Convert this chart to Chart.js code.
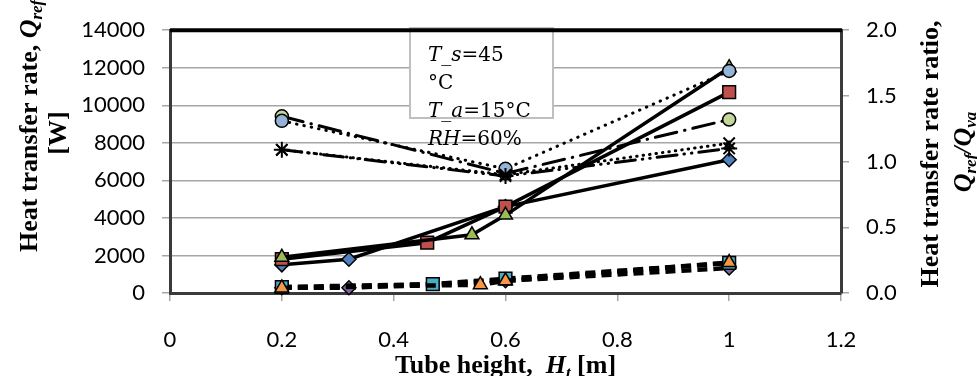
<!DOCTYPE html>
<html>
<head>
<meta charset="utf-8">
<script src="https://cdn.jsdelivr.net/npm/chart.js@4"></script>
<style>
  html, body { margin: 0; padding: 0; background: #fff; }
  #chart { display: block; }
</style>
</head>
<body>
<canvas id="chart" width="977" height="376"></canvas>
<script>
const $ = (sel) => document.querySelector(sel);

/* Heat transfer rate Q [W], solid lines */
const xDiamond = [0.2, 0.32, 0.6, 1.0];
const qDiamond = [1500, 1800, 4600, 7100];
const xSquare = [0.2, 0.46, 0.6, 1.0];
const qSquare = [1800, 2680, 4600, 10700];
const xTriangle = [0.2, 0.54, 0.6, 1.0];
const qTriangle = [1900, 3100, 4150, 12000];

/* Heat transfer rate Q [W], dashed lines */
const xDiamondVa = [0.2, 0.32, 0.6, 1.0];
const qDiamondVa = [280, 280, 650, 1330];
const xSquareVa = [0.2, 0.47, 0.6, 1.0];
const qSquareVa = [320, 470, 760, 1600];
const xTriangleVa = [0.2, 0.555, 0.6, 1.0];
const qTriangleVa = [270, 440, 650, 1620];

/* Ratio Q_ref/Q_va, right axis */
const xRatio = [0.2, 0.6, 1.0];
const rBlueCircle = [1.31, 0.945, 1.69];
const rGreenCircle = [1.345, 0.91, 1.32];
const rStar = [1.09, 0.89, 1.10];
const rCross = [1.09, 0.90, 1.14];

/* Tick labels */
const xTickLabels = ["0", "0.2", "0.4", "0.6", "0.8", "1", "1.2"];
const yTickLabels = ["0", "2000", "4000", "6000", "8000", "10000", "12000", "14000"];
const y1TickLabels = ["0.0", "0.5", "1.0", "1.5", "2.0"];

/* Condition note */
const noteLines = [
  [["T_s", true], ["=45", false]],
  [["°C", false]],
  [["T_a", true], ["=15°C", false]],
  [["RH", true], ["=60%", false]]
];

const pts = (xs, ys) => xs.map((x, i) => ({ x, y: ys[i] }));

const TICK_FONT = { family: "Lato", size: 22 };
const SERIF = "'Liberation Serif', 'Times New Roman', serif";

function series(xs, ys, o) {
  return {
    data: pts(xs, ys),
    yAxisID: o.axis || "y",
    borderColor: "#000",
    borderWidth: o.width || 3,
    borderDash: o.dash || [],
    borderCapStyle: o.cap || "butt",
    backgroundColor: o.fill,
    pointBackgroundColor: o.fill,
    pointBorderColor: "#000",
    pointBorderWidth: o.pbw || 1.5,
    pointStyle: o.style,
    pointRadius: o.r || 7,
    tension: 0,
    clip: false
  };
}

const solid = { width: 3.5 };
const dashed = { width: 4.5, dash: [10, 6] };

// first entry is drawn on top
const datasets = [
  series(xTriangleVa, qTriangleVa, { ...dashed, style: "triangle", fill: "#F79646", r: 8 }),
  series(xSquareVa, qSquareVa, { ...dashed, style: "rect", fill: "#4BACC6", r: 9 }),
  series(xDiamondVa, qDiamondVa, { ...dashed, style: "rectRot", fill: "#8064A2", r: 7 }),
  series(xRatio, rStar, { axis: "y1", width: 3, dash: [20, 7, 0.5, 7, 0.5, 7], cap: "round", style: "star", fill: "#000", r: 8, pbw: 2 }),
  series(xRatio, rCross, { axis: "y1", width: 3, dash: [0.5, 6], cap: "round", style: "crossRot", fill: "#000", r: 8, pbw: 2 }),
  series(xRatio, rBlueCircle, { axis: "y1", width: 3, dash: [0.5, 7], cap: "round", style: "circle", fill: "#95B3D7", r: 6.5 }),
  series(xRatio, rGreenCircle, { axis: "y1", width: 3, dash: [22, 8, 0.5, 8], cap: "round", style: "circle", fill: "#C3D69B", r: 6.5 }),
  series(xTriangle, qTriangle, { ...solid, style: "triangle", fill: "#9BBB59", r: 8 }),
  series(xSquare, qSquare, { ...solid, style: "rect", fill: "#C0504D", r: 9 }),
  series(xDiamond, qDiamond, { ...solid, style: "rectRot", fill: "#4F81BD", r: 7 })
];

/* Draw a list of [text, font, dy] runs along the current baseline */
function drawRuns(c, runs, x, y, align) {
  let total = 0;
  runs.forEach(([t, f]) => { c.font = f; total += c.measureText(t).width; });
  let cx = align === "center" ? x - total / 2 : x;
  c.textAlign = "left";
  c.textBaseline = "alphabetic";
  runs.forEach(([t, f, dy]) => {
    c.font = f;
    c.fillText(t, cx, y + (dy || 0));
    cx += c.measureText(t).width;
  });
}

const B = `bold 26px ${SERIF}`;
const BI = `italic bold 26px ${SERIF}`;
const BIs = `italic bold 17px ${SERIF}`;

const decor = {
  id: "decor",
  beforeDatasetsDraw(chart) {
    const c = chart.ctx;
    c.save();
    // note box
    c.fillStyle = "#fff";
    c.fillRect(410, 28, 143, 90);
    c.strokeStyle = "#BFBFBF";
    c.lineWidth = 2;
    c.strokeRect(410, 28, 143, 90);
    c.restore();
  },
  afterDatasetsDraw(chart) {
    const c = chart.ctx;
    const a = chart.chartArea;
    c.save();
    // heavy top frame
    c.strokeStyle = "#000";
    c.lineWidth = 4;
    c.beginPath();
    c.moveTo(a.left, a.top);
    c.lineTo(a.right + 1, a.top);
    c.stroke();

    // note text
    c.fillStyle = "#000";
    const base = [61, 89, 117, 145];
    noteLines.forEach((line, i) => {
      const runs = line.map(([t, it]) => [t, `${it ? "italic " : ""}20px 'DejaVu Serif', serif`]);
      drawRuns(c, runs, 428, base[i], "left");
    });

    // x title
    drawRuns(c, [
      ["Tube height,  ", B],
      ["H", BI],
      ["t", BIs, 5],
      [" [m]", B]
    ], (a.left + a.right) / 2, 373, "center");

    // left title (rotated)
    c.save();
    c.rotate(-Math.PI / 2);
    drawRuns(c, [
      ["Heat transfer rate, ", B],
      ["Q", BI],
      ["ref", BIs, 5],
      [", ", B],
      ["Q", BI],
      ["va", BIs, 5]
    ], -252, 37, "left");
    drawRuns(c, [["[W]", B]], -133, 66, "center");

    // right title (rotated)
    drawRuns(c, [["Heat transfer rate ratio,", B]], -154, 938, "center");
    drawRuns(c, [
      ["Q", BI],
      ["ref", BIs, 5],
      ["/", BI],
      ["Q", BI],
      ["va", BIs, 5]
    ], -152, 971, "center");
    c.restore();
    c.restore();
  }
};

const chart = new Chart($("#chart").getContext("2d"), {
  type: "line",
  data: { datasets },
  options: {
    responsive: false,
    animation: false,
    layout: { padding: { top: 20, left: 0, right: 0, bottom: 0 } },
    plugins: { legend: { display: false }, tooltip: { enabled: false } },
    scales: {
      x: {
        type: "linear",
        min: 0, max: 1.2,
        afterFit: (s) => { s.height = 83; },
        grid: { drawOnChartArea: false, tickLength: 8, tickColor: "#A6A6A6", lineWidth: 1.5 },
        border: { color: "#3a3a3a", width: 3 },
        ticks: {
          stepSize: 0.2, autoSkip: false, maxRotation: 0, padding: 26,
          color: "#000", font: TICK_FONT,
          callback: (v, i) => xTickLabels[i]
        }
      },
      y: {
        position: "left",
        min: 0, max: 14000,
        afterFit: (s) => { s.width = 170; },
        grid: { color: "#A6A6A6", lineWidth: 1.5, tickLength: 8, tickColor: "#A6A6A6" },
        border: { color: "#3a3a3a", width: 3 },
        ticks: {
          stepSize: 2000, padding: 17, color: "#000", font: TICK_FONT,
          callback: (v, i) => yTickLabels[i]
        }
      },
      y1: {
        position: "right",
        min: 0, max: 2,
        afterFit: (s) => { s.width = 136; },
        grid: { drawOnChartArea: false, tickLength: 8, tickColor: "#A6A6A6", lineWidth: 1.5 },
        border: { color: "#3a3a3a", width: 3 },
        ticks: {
          stepSize: 0.5, padding: 17, color: "#000", font: TICK_FONT,
          callback: (v, i) => y1TickLabels[i]
        }
      }
    }
  },
  plugins: [decor]
});
</script>
</body>
</html>
